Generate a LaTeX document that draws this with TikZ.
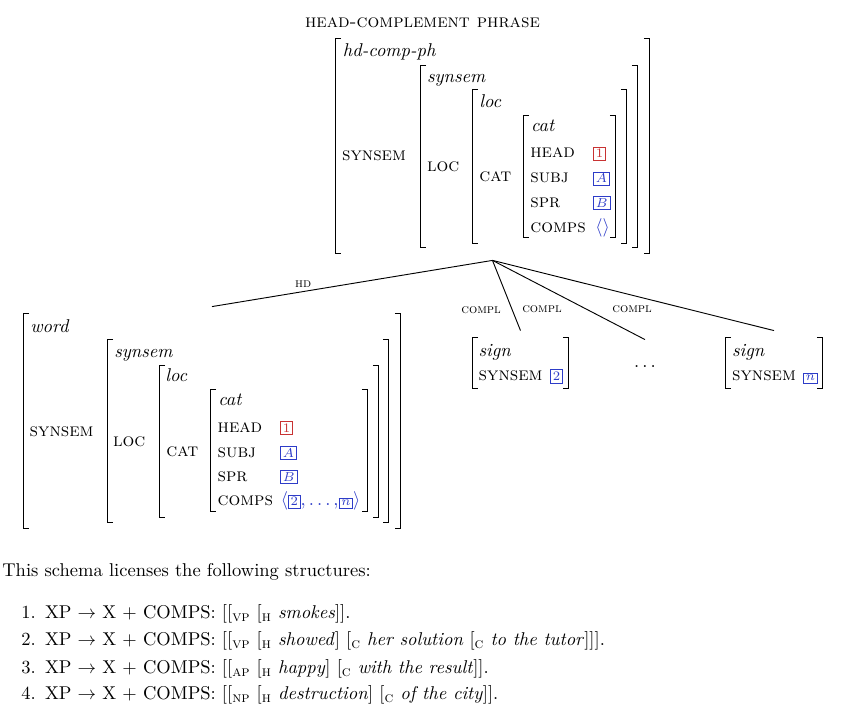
\documentclass[tikz,border=0pt]{standalone}
\usetikzlibrary{fit}
\definecolor{tagred}{RGB}{200,50,50}
\definecolor{tagblue}{RGB}{45,60,200}

\newcommand{\rtag}[1]{{\color{tagred}\fboxsep=1pt\fbox{\scriptsize #1}}}
\newcommand{\btag}[1]{{\color{tagblue}\fboxsep=1pt\fbox{\scriptsize #1}}}
\newcommand{\lbr}[1]{$[_{\mbox{\footnotesize\textsc{#1}}}$}
\newcommand{\avmbr}[1]{%
  \draw[brline] ([xshift=3pt]#1.north west) -- (#1.north west) -- (#1.south west) -- ([xshift=3pt]#1.south west);
  \draw[brline] ([xshift=-3pt]#1.north east) -- (#1.north east) -- (#1.south east) -- ([xshift=-3pt]#1.south east);}

\begin{document}
\begin{tikzpicture}[x=0.54pt, y=-0.54pt,
    brline/.style={line width=0.7pt},
    avm/.style={inner sep=0pt},
    typ/.style={anchor=base west, inner sep=0pt, font=\itshape},
    ftr/.style={anchor=base west, inner sep=0pt, font=\scshape},
    txt/.style={anchor=base west, inner sep=0pt},
    branch/.style={line width=0.5pt},
    elbl/.style={font=\scriptsize\scshape, inner sep=1pt}
  ]
  \useasboundingbox (0,0) rectangle (852,719);

  \node[anchor=base] (title) at (422.5,27.7) {\textsc{head-complement phrase}};

  % mother
  \node[avm, fit={(336,39) (649,253)}] (mom) {};
  \node[avm, fit={(421,66) (637,247)}] (momss) {};
  \node[avm, fit={(473,90) (626,243)}] (momloc) {};
  \node[avm, fit={(524,116) (615,237)}] (momcat) {};
  \avmbr{mom} \avmbr{momss} \avmbr{momloc} \avmbr{momcat}

  \node[typ] (momt) at (342.5,57) {hd-comp-ph};
  \node[ftr] (momf) at (341.7,160.7) {synsem};
  \node[typ] (momsst) at (426.7,82.7) {synsem};
  \node[ftr] (momssf) at (426.7,171.7) {loc};
  \node[typ] (momloct) at (479,107.7) {loc};
  \node[ftr] (momlocf) at (479,181.7) {cat};
  \node[typ] (momcatt) at (530.7,131.8) {cat};
  \node[ftr] (momhead) at (530,158) {head};
  \node[ftr] (momsubj) at (530,183) {subj};
  \node[ftr] (momspr) at (530,207.4) {spr};
  \node[ftr] (momcomps) at (530,232.2) {comps};
  \node[txt] (momheadv) at (593,158) {\rtag{1}};
  \node[txt] (momsubjv) at (593,183) {\btag{$A$}};
  \node[txt] (momsprv) at (593,207.4) {\btag{$B$}};
  \node[txt] (momcompsv) at (595,232.2) {\color{tagblue}$\langle\rangle$};

  % head daughter
  \node[avm, fit={(24,314) (400,528)}] (hd) {};
  \node[avm, fit={(108,340) (388,522)}] (hdss) {};
  \node[avm, fit={(160,366) (378,517)}] (hdloc) {};
  \node[avm, fit={(211,390) (367,511)}] (hdcat) {};
  \avmbr{hd} \avmbr{hdss} \avmbr{hdloc} \avmbr{hdcat}

  \node[typ] (hdt) at (30,332.3) {word};
  \node[ftr] (hdf) at (29.3,436.7) {synsem};
  \node[typ] (hdsst) at (114,357.3) {synsem};
  \node[ftr] (hdssf) at (112.7,446.7) {loc};
  \node[typ] (hdloct) at (165,381.7) {loc};
  \node[ftr] (hdlocf) at (166,456.7) {cat};
  \node[typ] (hdcatt) at (218,406) {cat};
  \node[ftr] (hdhead) at (217.3,432.5) {head};
  \node[ftr] (hdsubj) at (217.3,457.5) {subj};
  \node[ftr] (hdspr) at (217.3,481.4) {spr};
  \node[ftr] (hdcomps) at (217.3,506) {comps};
  \node[txt] (hdheadv) at (280,432.5) {\rtag{1}};
  \node[txt] (hdsubjv) at (280,457.5) {\btag{$A$}};
  \node[txt] (hdsprv) at (280,481.4) {\btag{$B$}};
  \node[txt] (hdcompsv) at (280.5,506) {\color{tagblue}$\langle$\btag{2}$,\ldots,$\btag{$n$}$\rangle$};

  % complements
  \node[avm, fit={(473,338) (568,388)}] (c1) {};
  \avmbr{c1}
  \node[typ] (c1t) at (478.3,356.7) {sign};
  \node[ftr] (c1f) at (478.3,380.7) {synsem};
  \node[txt] (c1v) at (550,380.7) {\btag{2}};

  \node[inner sep=0pt, minimum height=21.6pt] (cdots) at (645,367) {$\ldots$};

  \node[avm, fit={(726,338) (822,388)}] (cn) {};
  \avmbr{cn}
  \node[typ] (cnt) at (731.7,356.7) {sign};
  \node[ftr] (cnf) at (731.7,380.7) {synsem};
  \node[txt] (cnv) at (803,380.7) {\btag{$n$}};

  \draw[branch] ([yshift=-3.8pt]mom.south) -- node[elbl, pos=.675, above=1.2pt] {hd} ([yshift=3.8pt]hd.north);
  \draw[branch] ([yshift=-3.8pt]mom.south) -- node[elbl, pos=.704, left=4.9pt] {compl} ([yshift=3.8pt]c1.north);
  \draw[branch] ([yshift=-3.8pt]mom.south) -- node[elbl, pos=.325, below=9.5pt] {compl} ([yshift=3.8pt]cdots.north);
  \draw[branch] ([yshift=-3.8pt]mom.south) -- node[elbl, pos=.496, below=4.5pt] {compl} ([yshift=3.8pt]cn.north);

  % licensed structures
  \node[txt] (intro) at (2,576.7) {This schema licenses the following structures:};
  \node[txt] (ex1) at (21,618.3) {1.\hspace{.5em}XP $\rightarrow$ X + COMPS: [\lbr{vp} \lbr{h} \textit{smokes}]].};
  \node[txt] (ex2) at (21,645.7) {2.\hspace{.5em}XP $\rightarrow$ X + COMPS: [\lbr{vp} \lbr{h} \textit{showed}] \lbr{c} \textit{her solution} \lbr{c} \textit{to the tutor}]]].};
  \node[txt] (ex3) at (21,673.3) {3.\hspace{.5em}XP $\rightarrow$ X + COMPS: [\lbr{ap} \lbr{h} \textit{happy}] \lbr{c} \textit{with the result}]].};
  \node[txt] (ex4) at (21,700) {4.\hspace{.5em}XP $\rightarrow$ X + COMPS: [\lbr{np} \lbr{h} \textit{destruction}] \lbr{c} \textit{of the city}]].};
\end{tikzpicture}
\end{document}
